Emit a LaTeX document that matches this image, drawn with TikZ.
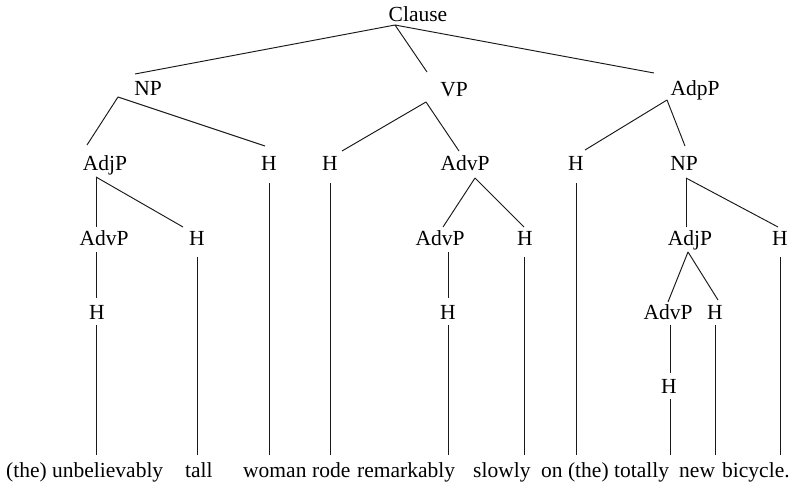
\documentclass[tikz,border=0pt]{standalone}
\usepackage{fontspec}
\setmainfont{Liberation Serif}
\begin{document}
\begin{tikzpicture}[x=1pt,y=-1pt,
  lbl/.style={inner sep=0pt, anchor=base, font=\fontsize{21.5}{25}\selectfont},
  word/.style={inner sep=0pt, anchor=base west, font=\fontsize{21.5}{25}\selectfont},
  branch/.style={line width=0.95pt, black!90}]
\useasboundingbox (0,0) rectangle (792,487);

% ---- category labels (baseline positions) ----
\node[lbl] (clause) at (418,22) {Clause};
\node[lbl] (np)     at (148,95) {NP};
\node[lbl] (vp)     at (454,96) {VP};
\node[lbl] (adpp)   at (695,95) {AdpP};

\node[lbl] (adjpA)  at (105,170) {AdjP};
\node[lbl] (hN)     at (269,170) {H};
\node[lbl] (hV)     at (330,170) {H};
\node[lbl] (advpA)  at (465,170) {AdvP};
\node[lbl] (hP)     at (576,170) {H};
\node[lbl] (npB)    at (684,170) {NP};

\node[lbl] (advpB)  at (104,245) {AdvP};
\node[lbl] (hAj)    at (197,245) {H};
\node[lbl] (advpC)  at (440,245) {AdvP};
\node[lbl] (hAv)    at (525,245) {H};
\node[lbl] (adjpB)  at (690,245) {AdjP};
\node[lbl] (hNB)    at (780,245) {H};

\node[lbl] (hB)     at (97,319)  {H};
\node[lbl] (hC)     at (448,319) {H};
\node[lbl] (advpD)  at (668,319) {AdvP};
\node[lbl] (hAjB)   at (715,319) {H};

\node[lbl] (hD)     at (669,393) {H};

% ---- words ----
\node[word] (w1)  at (6,477)   {(the) unbelievably};
\node[word] (w2)  at (185,477) {tall};
\node[word] (w3)  at (243,477) {woman};
\node[word] (w4)  at (312,477) {rode};
\node[word] (w5)  at (357,477) {remarkably};
\node[word] (w6)  at (473,477) {slowly};
\node[word] (w7)  at (541,477) {on (the)};
\node[word] (w8)  at (614,477) {totally};
\node[word] (w9)  at (679,477) {new};
\node[word] (w10) at (722,477) {bicycle.};

% ---- branch end points ----
\coordinate (clause-o) at (395,25);
\coordinate (np-i) at (135,74);   \coordinate (np-o) at (118,97);
\coordinate (vp-i) at (427,72);   \coordinate (vp-o) at (426,102);
\coordinate (adpp-i) at (654,73); \coordinate (adpp-o) at (667,100);

\coordinate (adjpA-i) at (87,145);  \coordinate (adjpA-o) at (96,177);
\coordinate (hN-i) at (265,146);    \coordinate (hN-o) at (269,183);
\coordinate (hV-i) at (342,151);    \coordinate (hV-o) at (330,183);
\coordinate (advpA-i) at (459,151); \coordinate (advpA-o) at (475,178);
\coordinate (hP-i) at (585,150);    \coordinate (hP-o) at (576,183);
\coordinate (npB-i) at (685,146);   \coordinate (npB-o) at (686,178);

\coordinate (advpB-i) at (96,227);  \coordinate (advpB-o) at (96,252);
\coordinate (hAj-i) at (183,227);   \coordinate (hAj-o) at (197,257);
\coordinate (advpC-i) at (443,227); \coordinate (advpC-o) at (448,252);
\coordinate (hAv-i) at (524,227);   \coordinate (hAv-o) at (524,257);
\coordinate (adjpB-i) at (686,227); \coordinate (adjpB-o) at (688,252);
\coordinate (hNB-i) at (778,227);   \coordinate (hNB-o) at (780,257);

\coordinate (hB-i) at (96,298);     \coordinate (hB-o) at (96,325);
\coordinate (hC-i) at (448,298);    \coordinate (hC-o) at (448,325);
\coordinate (advpD-i) at (668,302); \coordinate (advpD-o) at (670,325);
\coordinate (hAjB-i) at (718,300);  \coordinate (hAjB-o) at (715,325);

\coordinate (hD-i) at (670,373);    \coordinate (hD-o) at (670,399);

\coordinate (w1-t) at (96,455);  \coordinate (w2-t) at (197,455);
\coordinate (w3-t) at (269,455); \coordinate (w4-t) at (330,455);
\coordinate (w5-t) at (448,455); \coordinate (w6-t) at (524,455);
\coordinate (w7-t) at (576,455); \coordinate (w8-t) at (670,455);
\coordinate (w9-t) at (715,455); \coordinate (w10-t) at (780,455);

% ---- branches ----
\draw[branch] (clause-o) -- (np-i);
\draw[branch] (clause-o) -- (vp-i);
\draw[branch] (clause-o) -- (adpp-i);

\draw[branch] (np-o) -- (adjpA-i);
\draw[branch] (np-o) -- (hN-i);
\draw[branch] (vp-o) -- (hV-i);
\draw[branch] (vp-o) -- (advpA-i);
\draw[branch] (adpp-o) -- (hP-i);
\draw[branch] (adpp-o) -- (npB-i);

\draw[branch] (adjpA-o) -- (advpB-i);
\draw[branch] (adjpA-o) -- (hAj-i);
\draw[branch] (advpA-o) -- (advpC-i);
\draw[branch] (advpA-o) -- (hAv-i);
\draw[branch] (npB-o) -- (adjpB-i);
\draw[branch] (npB-o) -- (hNB-i);

\draw[branch] (advpB-o) -- (hB-i);
\draw[branch] (advpC-o) -- (hC-i);
\draw[branch] (adjpB-o) -- (advpD-i);
\draw[branch] (adjpB-o) -- (hAjB-i);

\draw[branch] (advpD-o) -- (hD-i);

% ---- heads down to the words ----
\draw[branch] (hB-o) -- (w1-t);
\draw[branch] (hAj-o) -- (w2-t);
\draw[branch] (hN-o) -- (w3-t);
\draw[branch] (hV-o) -- (w4-t);
\draw[branch] (hC-o) -- (w5-t);
\draw[branch] (hAv-o) -- (w6-t);
\draw[branch] (hP-o) -- (w7-t);
\draw[branch] (hD-o) -- (w8-t);
\draw[branch] (hAjB-o) -- (w9-t);
\draw[branch] (hNB-o) -- (w10-t);
\end{tikzpicture}
\end{document}
